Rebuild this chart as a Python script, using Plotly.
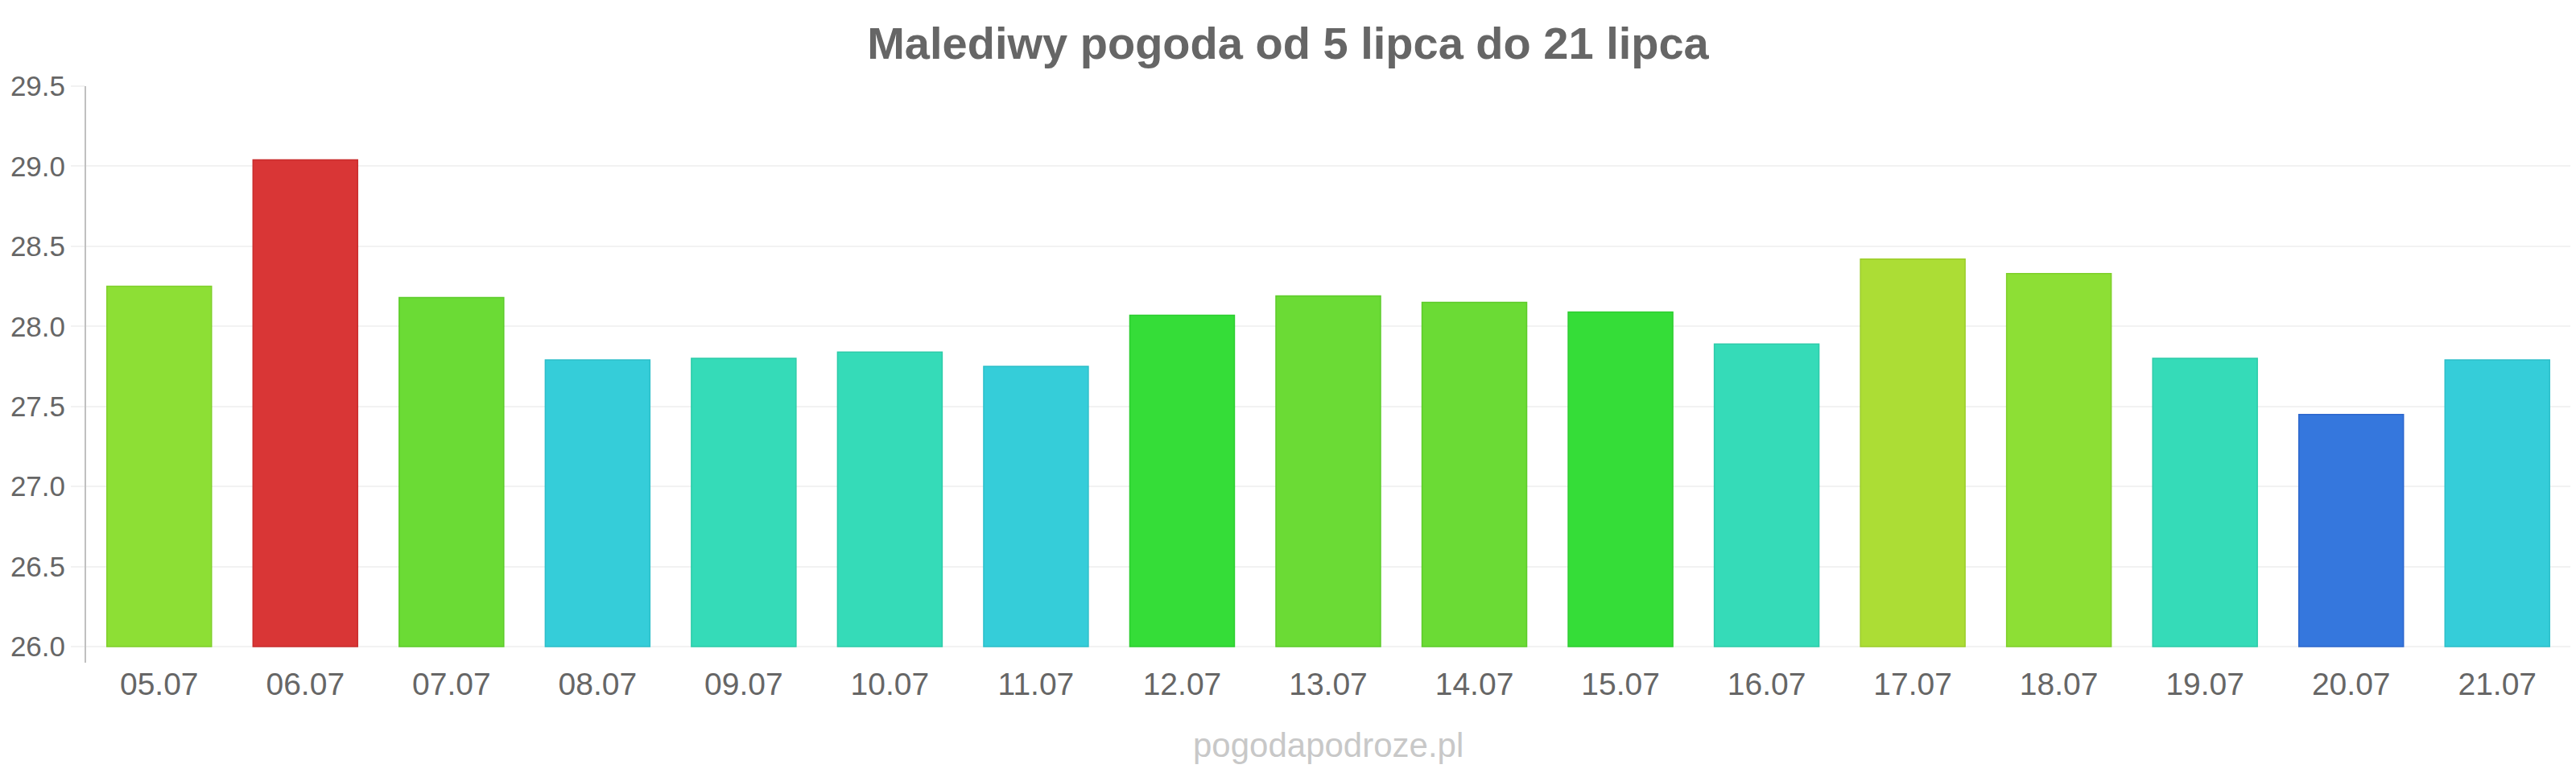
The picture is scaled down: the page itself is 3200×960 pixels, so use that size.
import plotly.graph_objects as go

dates = ["05.07", "06.07", "07.07", "08.07", "09.07", "10.07", "11.07", "12.07", "13.07",
         "14.07", "15.07", "16.07", "17.07", "18.07", "19.07", "20.07", "21.07"]
temps = [28.25, 29.04, 28.18, 27.79, 27.80, 27.84, 27.75, 28.07, 28.19,
         28.15, 28.09, 27.89, 28.42, 28.33, 27.80, 27.45, 27.79]
bar_colors = ["#8ddf35", "#d93636", "#6bdb35", "#35cdd9", "#35dbb8", "#35dbb8", "#35cdd9",
              "#35dd38", "#6bdb35", "#6bdb35", "#35dd38", "#35dbb8", "#acdd35", "#8ddf35",
              "#35dbb8", "#3577dd", "#35cdd9"]
line_colors = ["#7fcf2a", "#c92e2e", "#5ccb2a", "#2dbfc9", "#2dcba9", "#2dcba9", "#2dbfc9",
               "#2ccd30", "#5ccb2a", "#5ccb2a", "#2ccd30", "#2dcba9", "#9ccd2a", "#7fcf2a",
               "#2dcba9", "#2d67cd", "#2dbfc9"]
y_ticks = [26.0, 26.5, 27.0, 27.5, 28.0, 28.5, 29.0, 29.5]
title_text = "Malediwy pogoda od 5 lipca do 21 lipca"
credit_text = "pogodapodroze.pl"

base_value = 26.0

fig = go.Figure(go.Bar(
    x=dates,
    y=[t - base_value for t in temps],
    base=base_value,
    marker=dict(color=bar_colors, line=dict(color=line_colors, width=1.5)),
    hoverinfo="skip",
))

fig.update_layout(
    width=3200, height=960,
    margin=dict(l=107, r=7, t=107, b=137),
    paper_bgcolor="white", plot_bgcolor="white",
    bargap=0.284,
    showlegend=False,
    font=dict(family="Liberation Sans, Arial, sans-serif", color="#666666"),
    title=dict(text="<b>" + title_text + "</b>", x=0.5, xanchor="center",
               y=1 - 53 / 960, yanchor="middle", yref="container",
               font=dict(size=56, color="#666666")),
    xaxis=dict(showgrid=False, showline=False, ticks="", zeroline=False,
               tickfont=dict(size=39, color="#666666"), ticklabelstandoff=0),
    yaxis=dict(range=[25.9, 29.5], tickvals=y_ticks, tickformat=".1f",
               showgrid=True, gridcolor="#f2f2f2", gridwidth=2,
               showline=True, linecolor="#c0c0c0", linewidth=2,
               ticks="outside", ticklen=17, tickcolor="#f2f2f2", tickwidth=2,
               zeroline=False, tickfont=dict(size=35, color="#666666")),
    annotations=[dict(text=credit_text, xref="paper", yref="paper", x=0.5, y=-102 / 716,
                      xanchor="center", yanchor="middle", showarrow=False,
                      font=dict(size=42, color="#c8c8c8"))],
)

fig.write_html("out.html")
